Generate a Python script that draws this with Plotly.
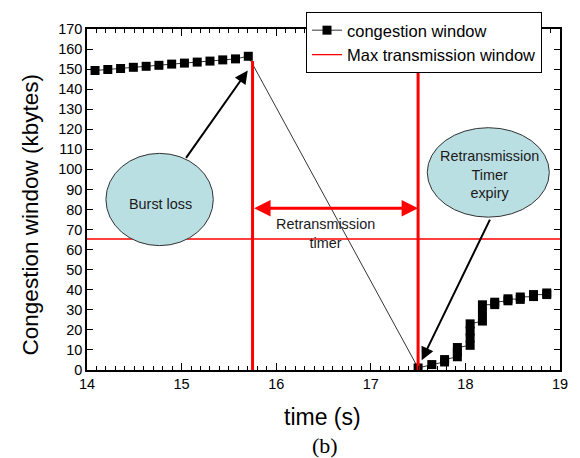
import plotly.graph_objects as go

# Congestion window samples before the burst loss
t_before = [14.085, 14.22, 14.355, 14.49, 14.625, 14.76, 14.895,
            15.03, 15.165, 15.30, 15.435, 15.57, 15.705]
w_before = [149.3, 149.8, 150.3, 150.9, 151.4, 151.9, 152.5,
            153.0, 153.5, 154.0, 154.6, 155.1, 156.4]

# Congestion window samples after the retransmission timer expiry (slow start)
t_after = [17.50, 17.645, 17.78, 17.78,
           17.915, 17.915, 17.915,
           18.05, 18.05, 18.05, 18.05,
           18.18, 18.18, 18.18,
           18.31, 18.31, 18.45, 18.45, 18.58, 18.58,
           18.72, 18.72, 18.86, 18.86]
w_after = [1.0, 2.7, 4.0, 5.2,
           6.6, 9.0, 11.2,
           12.3, 16.0, 19.5, 23.0,
           24.4, 28.5, 32.5,
           32.6, 33.8, 34.5, 35.5, 35.2, 36.4,
           36.6, 37.6, 37.6, 38.4]

loss_time = 15.75
expiry_time = 17.5
event_line_top = 154
max_window = 65.3
timer_level = 80.6
x_range = [14, 19]
y_range = [0, 170]

time = t_before + t_after
cwnd = w_before + w_after

fig = go.Figure()

fig.add_trace(go.Scatter(
    x=time, y=cwnd, mode="lines+markers", name="congestion window",
    line=dict(color="black", width=0.8),
    marker=dict(symbol="square", size=9, color="black"),
))
fig.add_trace(go.Scatter(
    x=x_range, y=[max_window, max_window], mode="lines",
    name="Max transmission window",
    line=dict(color="#ff0000", width=1.3),
))
for t in (loss_time, expiry_time):
    fig.add_trace(go.Scatter(
        x=[t, t], y=[0, event_line_top], mode="lines",
        line=dict(color="#ff0000", width=3), showlegend=False, hoverinfo="skip",
    ))

text_font = dict(family="Liberation Sans, Arial", size=14.4, color="#1a1a1a")
bubble_fill = "#badfe3"

# Callout bubbles
fig.add_shape(type="circle", xref="x", yref="y", x0=14.20, x1=15.335, y0=62.0, y1=108.0,
              fillcolor=bubble_fill, line=dict(color="#333333", width=1), layer="above")
fig.add_shape(type="circle", xref="x", yref="y", x0=17.597, x1=18.887, y0=76.2, y1=120.8,
              fillcolor=bubble_fill, line=dict(color="#333333", width=1), layer="above")

annotations = [
    dict(x=14.772, y=82.7, text="Burst loss", showarrow=False, font=text_font),
    dict(x=18.25, y=97.7, text="Retransmission<br>Timer<br>expiry", showarrow=False, font=text_font),
    dict(x=16.516, y=67.9, text="Retransmission<br>timer", showarrow=False, font=text_font),
    # Pointer arrows from the bubbles to the events
    dict(x=15.699, y=149.3, ax=15.036, ay=105.0, axref="x", ayref="y", text="",
         showarrow=True, arrowhead=2, arrowsize=1.3, arrowwidth=2, arrowcolor="black"),
    dict(x=17.538, y=4.9, ax=18.267, ay=75.7, axref="x", ayref="y", text="",
         showarrow=True, arrowhead=2, arrowsize=1.3, arrowwidth=2, arrowcolor="black"),
    # Retransmission timer span
    dict(x=expiry_time, y=timer_level, ax=loss_time, ay=timer_level, axref="x", ayref="y",
         text="", showarrow=True, arrowside="end+start", arrowhead=2, arrowsize=1.1,
         arrowwidth=3, arrowcolor="#ff0000"),
    # Axis titles and caption
    dict(xref="paper", yref="paper", x=0.498, y=-0.138, text="time (s)", showarrow=False,
         font=dict(family="Liberation Sans, Arial", size=23, color="black")),
    dict(xref="paper", yref="paper", x=-0.12, y=0.454, text="Congestion window (kbytes)",
         textangle=-90, showarrow=False,
         font=dict(family="Liberation Sans, Arial", size=22.5, color="black")),
    dict(xref="paper", yref="paper", x=0.503, y=-0.222, text="(b)", showarrow=False,
         font=dict(family="Liberation Serif, Times New Roman", size=22, color="black")),
]
for a in annotations:
    a.setdefault("xref", "x")
    a.setdefault("yref", "y")
    a.setdefault("xanchor", "center")
    a.setdefault("yanchor", "middle")
fig.update_layout(annotations=annotations)

axis_common = dict(
    showline=True, linecolor="black", linewidth=1.5, mirror="ticks",
    ticks="inside", tickcolor="black", tickwidth=1.2,
    showgrid=False, zeroline=False,
    tickfont=dict(family="Liberation Sans, Arial", size=14.5, color="black"),
)
fig.update_xaxes(range=x_range, dtick=1, ticklen=7,
                 minor=dict(dtick=0.1, ticks="inside", ticklen=4, tickcolor="black", tickwidth=1),
                 **axis_common)
fig.update_yaxes(range=y_range, dtick=10, ticklen=6, **axis_common)

fig.update_layout(
    width=580, height=458,
    margin=dict(l=87, r=20, t=22, b=88),
    paper_bgcolor="white", plot_bgcolor="white",
    showlegend=True,
    legend=dict(x=0.463, y=1.05, xanchor="left", yanchor="top",
                bgcolor="white", bordercolor="black", borderwidth=1,
                font=dict(family="Liberation Sans, Arial", size=16.5, color="black"),
                tracegroupgap=0),
)

fig.write_html("out.html")
